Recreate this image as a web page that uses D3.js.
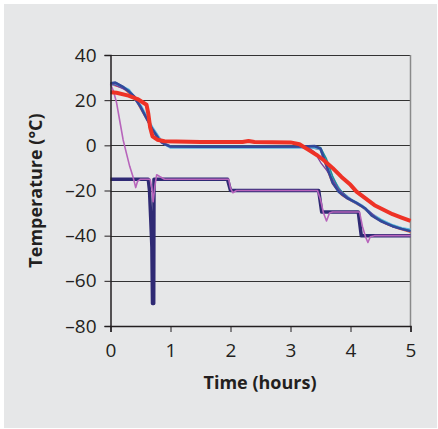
<!DOCTYPE html>
<html>
  <head>
    <meta charset="UTF-8">
    <title>Temperature</title>
    <style>
      html, body { margin: 0; padding: 0; background: #fff; }
      text { font-family: "Open Sans", sans-serif; fill: #231f20; }
      .title { font-size: 18px; font-weight: bold; }
    </style>
  </head>
  <body>
    <svg width="438" height="429"></svg>
    <script src="https://cdn.jsdelivr.net/npm/d3@7"></script>
    <script>
      // ticks
      const xTicks = [0, 1, 2, 3, 4, 5]
      const yTicks = [40, 20, 0, -20, -40, -60, -80]

      // series: [time (h), temperature (°C)]
      const thickRed = [[0, 23.5], [0.1, 23.3], [0.3, 22], [0.45, 20.5], [0.6, 18], [0.63, 14], [0.66, 8], [0.7, 4],
        [0.78, 2.5], [0.9, 1.8], [1.5, 1.5], [2.2, 1.5], [2.3, 1.9], [2.4, 1.5], [3.0, 1.3], [3.15, 0.5], [3.3, -2],
        [3.45, -4.5], [3.55, -6.5], [3.7, -10], [3.85, -14], [4.0, -17.5], [4.1, -20.5], [4.25, -23.5], [4.4, -26.5],
        [4.55, -28.5], [4.7, -30.5], [4.85, -32], [5.0, -33.5]]
      const thinRed = [[0, 27], [0.2, 25.5], [0.4, 21], [0.6, 11.5], [0.8, 2.5], [1.0, -0.6], [3.3, -0.6], [3.5, -2],
        [3.6, -10], [3.7, -17], [3.85, -22], [4.0, -24.5], [4.2, -27.5], [4.4, -32], [4.6, -35], [4.8, -37], [5.0, -38.5]]
      const lightBlue = [[0, 27], [0.1, 27.2], [0.3, 24.5], [0.5, 17.5], [0.7, 7.5], [0.85, 1.5], [1.0, -0.8], [2.5, -0.9],
        [3.35, -0.8], [3.5, -1.5], [3.6, -8], [3.7, -15], [3.85, -21], [4.0, -24], [4.2, -27], [4.35, -30.5],
        [4.5, -33], [4.7, -35.5], [4.85, -36.8], [5.0, -37.5]]
      const teal = [[0, 27.3], [0.1, 27.5], [0.3, 24.3], [0.5, 17.2], [0.7, 7], [0.85, 1.2], [1.0, -0.5], [2.5, -0.5],
        [3.4, -0.5], [3.5, -1], [3.6, -6], [3.7, -13.5], [3.8, -19], [3.95, -23], [4.1, -25.5], [4.25, -28],
        [4.4, -31.5], [4.6, -34.5], [4.8, -36.5], [5.0, -37.8]]
      const violet = [[0, 27.5], [0.3, 24], [0.5, 17], [0.7, 6.8], [0.85, 1], [1.0, -0.6], [3.2, -0.6], [3.3, -1],
        [3.4, -3], [3.5, -7.5], [3.6, -11], [3.7, -15], [3.8, -19.5], [3.95, -23], [4.1, -25.5], [4.3, -29],
        [4.5, -33.5], [4.7, -36], [5.0, -38.2]]
      const darkBlue = [[0, 27.5], [0.08, 27.8], [0.2, 26], [0.3, 24], [0.4, 21.5], [0.5, 17], [0.6, 12], [0.7, 7],
        [0.8, 3], [0.9, 0.5], [1.0, -0.5], [1.5, -0.6], [2.5, -0.6], [3.2, -0.5], [3.4, -0.3], [3.5, -1.5],
        [3.6, -9], [3.7, -16.5], [3.8, -20.5], [3.95, -23.5], [4.1, -25.5], [4.25, -28], [4.35, -31], [4.5, -33.5],
        [4.7, -35.8], [4.85, -37], [5.0, -38]]
      const magenta = [[0, 27], [0.05, 24], [0.1, 19], [0.16, 10], [0.21, 2.5], [0.27, -4], [0.32, -9.3], [0.37, -13.5],
        [0.4, -16.5], [0.42, -18.7], [0.45, -16], [0.5, -15], [0.66, -15], [0.69, -19], [0.71, -25], [0.74, -18],
        [0.77, -13], [0.82, -13.8], [0.9, -15], [1.97, -15], [2.0, -19], [2.04, -21], [2.1, -20], [3.45, -20],
        [3.5, -24], [3.55, -30], [3.6, -33.5], [3.65, -30], [3.7, -29.5], [4.15, -29.5], [4.2, -36], [4.25, -40.5],
        [4.29, -43], [4.33, -40.5], [4.4, -40], [5.0, -40]]
      const navyStep = [[0, -15], [0.63, -15], [0.65, -20], [0.67, -32], [0.69, -45], [0.7, -70], [0.72, -70],
        [0.725, -15], [1.95, -15], [2.0, -20], [3.47, -20], [3.52, -29.5], [4.13, -29.5], [4.18, -40], [5.0, -40]]

      const series = [
        { data: thinRed, color: '#f05a3a', width: 1.5 },
        { data: lightBlue, color: '#5bb4e0', width: 3 },
        { data: teal, color: '#1f9198', width: 1.5 },
        { data: violet, color: '#7a3f9c', width: 1.3 },
        { data: darkBlue, color: '#33489a', width: 2.5 },
        { data: navyStep, color: '#2f2a74', width: 3.5 },
        { data: magenta, color: '#b764bb', width: 1.6 },
        { data: thickRed, color: '#ee3226', width: 4 }
      ]

      const svg = d3.select('svg')
      svg.append('rect').attr('x', 4).attr('y', 4).attr('width', 433).attr('height', 424).attr('fill', '#e6e7e8')

      const x = d3.scaleLinear().domain([0, 5]).range([110.5, 410.5])
      const y = d3.scaleLinear().domain([-80, 40]).range([326, 55])

      // grid lines
      svg.append('g').selectAll('line').data(yTicks).enter().append('line')
        .attr('x1', x(0)).attr('x2', x(5))
        .attr('y1', d => Math.round(y(d)) + 0.5).attr('y2', d => Math.round(y(d)) + 0.5)
        .attr('stroke', '#333').attr('stroke-width', 1)
      svg.append('line').attr('x1', x(5)).attr('x2', x(5)).attr('y1', y(40)).attr('y2', y(-80))
        .attr('stroke', '#8a8a8a').attr('stroke-width', 1.5)

      // lines
      const line = d3.line().x(d => x(d[0])).y(d => y(d[1]))
      svg.append('g').selectAll('path').data(series).enter().append('path')
        .attr('d', d => line(d.data))
        .attr('fill', 'none')
        .attr('stroke', d => d.color)
        .attr('stroke-width', d => d.width)
        .attr('stroke-linejoin', 'round')

      // axes
      const yAxis = d3.axisLeft(y).tickValues(yTicks).tickSize(6).tickPadding(8)
        .tickFormat(d => d < 0 ? '\u2013' + Math.abs(d) : d)
      const gy = svg.append('g').attr('transform', 'translate(' + x(0) + ',0)').call(yAxis)
      const xAxis = d3.axisBottom(x).tickValues(xTicks).tickFormat(d3.format('d')).tickSize(6).tickPadding(12)
      const gx = svg.append('g').attr('transform', 'translate(0,' + y(-80) + ')').call(xAxis)
      for (const g of [gx, gy]) {
        g.attr('font-family', null).attr('font-size', null)
        g.select('.domain').attr('stroke', '#231f20').attr('stroke-width', 1.5)
        g.selectAll('.tick line').attr('stroke', '#231f20')
        g.selectAll('.tick text').style('font-size', '19px').attr('fill', '#231f20')
      }

      svg.append('text').attr('class', 'title')
        .attr('transform', 'translate(42,' + (y(40) + y(-80)) / 2 + ') rotate(-90)')
        .attr('text-anchor', 'middle').text('Temperature (°C)')
      svg.append('text').attr('class', 'title')
        .attr('x', 260).attr('y', 389).attr('text-anchor', 'middle').text('Time (hours)')
    </script>
  </body>
</html>
